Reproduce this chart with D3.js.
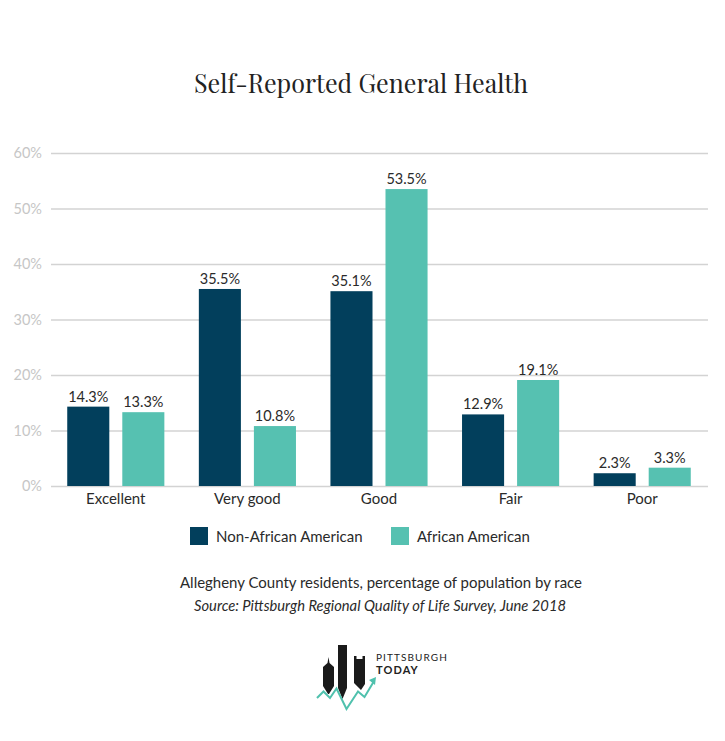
<!DOCTYPE html>
<html>
<head>
<meta charset="utf-8">
<script src="https://cdn.jsdelivr.net/npm/d3@7"></script>
<style>
  html, body { margin: 0; padding: 0; background: #fff; }
  svg { display: block; }
</style>
</head>
<body>
<svg id="chart" width="725" height="741"></svg>
<script>
const categories = ["Excellent", "Very good", "Good", "Fair", "Poor"];
const seriesNames = ["Non-African American", "African American"];
const nonAfricanAmerican = [14.3, 35.5, 35.1, 12.9, 2.3];
const africanAmerican = [13.3, 10.8, 53.5, 19.1, 3.3];
const yTicks = [0, 10, 20, 30, 40, 50, 60];
const colors = ["#023f5c", "#56c1b1"];

const svg = d3.select("#chart");
const font = "Lato, 'Open Sans', sans-serif";

const x = d3.scaleBand().domain(categories).range([50, 708]).paddingInner(0.262).paddingOuter(0.131);
const xs = d3.scaleBand().domain(seriesNames).range([0, x.bandwidth()]).paddingInner(0.236);
const y = d3.scaleLinear().domain([0, 60]).range([486, 153]);

// Title
svg.append("text").attr("x", 361).attr("y", 93).attr("text-anchor", "middle")
  .attr("font-family", "'Playfair Display', 'Liberation Serif', 'DejaVu Serif', serif")
  .attr("font-size", 27).attr("fill", "#222").attr("textLength", 334).attr("lengthAdjust", "spacingAndGlyphs")
  .text("Self-Reported General Health");

// Grid + y axis
const yAxis = d3.axisLeft(y).tickValues(yTicks).tickFormat(d => d + "%").tickSize(-(708 - 51)).tickPadding(9);
const gy = svg.append("g").attr("transform", "translate(51,0)").call(yAxis);
gy.select(".domain").remove();
gy.selectAll(".tick line").attr("stroke", "#d3d3d3").attr("stroke-width", 1.3);
gy.selectAll(".tick text").attr("font-family", font).attr("font-size", 14.5).attr("fill", "#c6c6c6");

// Bars
const data = categories.map((c, i) => ({ cat: c, vals: [nonAfricanAmerican[i], africanAmerican[i]] }));
const groups = svg.append("g").selectAll("g").data(data).join("g")
  .attr("transform", d => `translate(${x(d.cat)},0)`);
groups.selectAll("rect").data(d => d.vals.map((v, j) => ({ name: seriesNames[j], v, j })))
  .join("rect")
  .attr("x", d => xs(d.name)).attr("width", xs.bandwidth())
  .attr("y", d => y(d.v)).attr("height", d => y(0) - y(d.v))
  .attr("fill", d => colors[d.j]);
groups.selectAll("text.val").data(d => d.vals.map((v, j) => ({ name: seriesNames[j], v, j })))
  .join("text").attr("class", "val")
  .attr("x", d => xs(d.name) + xs.bandwidth() / 2).attr("y", d => y(d.v) - 5)
  .attr("text-anchor", "middle").attr("font-family", font).attr("font-size", 14.5).attr("fill", "#2a2a2a")
  .text(d => d.v.toFixed(1) + "%");

// X axis labels
const xAxis = d3.axisBottom(x).tickSize(0).tickPadding(7);
const gx = svg.append("g").attr("transform", "translate(0,486)").call(xAxis);
gx.select(".domain").remove();
gx.selectAll(".tick text").attr("font-family", font).attr("font-size", 15).attr("fill", "#2a2a2a");

// Legend
const legendX = [190, 391];
const lg = svg.append("g").selectAll("g").data(seriesNames).join("g")
  .attr("transform", (d, i) => `translate(${legendX[i]},527)`);
lg.append("rect").attr("width", 18).attr("height", 18).attr("fill", (d, i) => colors[i]);
lg.append("text").attr("x", 26).attr("y", 15).attr("font-family", font).attr("font-size", 15).attr("fill", "#2a2a2a").text(d => d);

// Caption
svg.append("text").attr("x", 381).attr("y", 588).attr("text-anchor", "middle")
  .attr("font-family", font).attr("font-size", 15).attr("fill", "#2a2a2a")
  .attr("textLength", 402).attr("lengthAdjust", "spacingAndGlyphs")
  .text("Allegheny County residents, percentage of population by race");
svg.append("text").attr("x", 380).attr("y", 611).attr("text-anchor", "middle")
  .attr("font-family", font).attr("font-size", 15).attr("font-style", "italic").attr("fill", "#2a2a2a")
  .attr("textLength", 372).attr("lengthAdjust", "spacingAndGlyphs")
  .text("Source: Pittsburgh Regional Quality of Life Survey, June 2018");

// Logo
const logo = svg.append("g");
logo.append("path").attr("fill", "#1a1a1a")
  .attr("d", "M328.5,657 L329.5,663 L334,667 L334,686 L329,694 L328,694 L323,686 L323,667 L327.5,663 Z");
logo.append("path").attr("fill", "#1a1a1a")
  .attr("d", "M338,645 L347,645 L347,688 L342.5,699 L338,688 Z");
logo.append("path").attr("fill", "#1a1a1a")
  .attr("d", "M354,656 L356.5,656 L356.5,659 L362.5,659 L362.5,656 L365,656 L365,684 L361,690 L354,683 Z");
logo.append("polyline").attr("fill", "none").attr("stroke", "#4fc1ad").attr("stroke-width", 2)
  .attr("points", "317,698 323.5,691.5 330,698 336.5,688.5 346.5,709 358,691.5 364.5,697 373.5,682");
logo.append("path").attr("fill", "#4fc1ad").attr("d", "M376,677 L369,680 L375,685 Z");
logo.append("text").attr("x", 376).attr("y", 661).attr("font-family", font).attr("font-size", 10)
  .attr("letter-spacing", 1.1).attr("fill", "#222").text("PITTSBURGH");
logo.append("text").attr("x", 376).attr("y", 674).attr("font-family", font).attr("font-size", 11)
  .attr("font-weight", "bold").attr("letter-spacing", 1.1).attr("fill", "#222").text("TODAY");
</script>
</body>
</html>
